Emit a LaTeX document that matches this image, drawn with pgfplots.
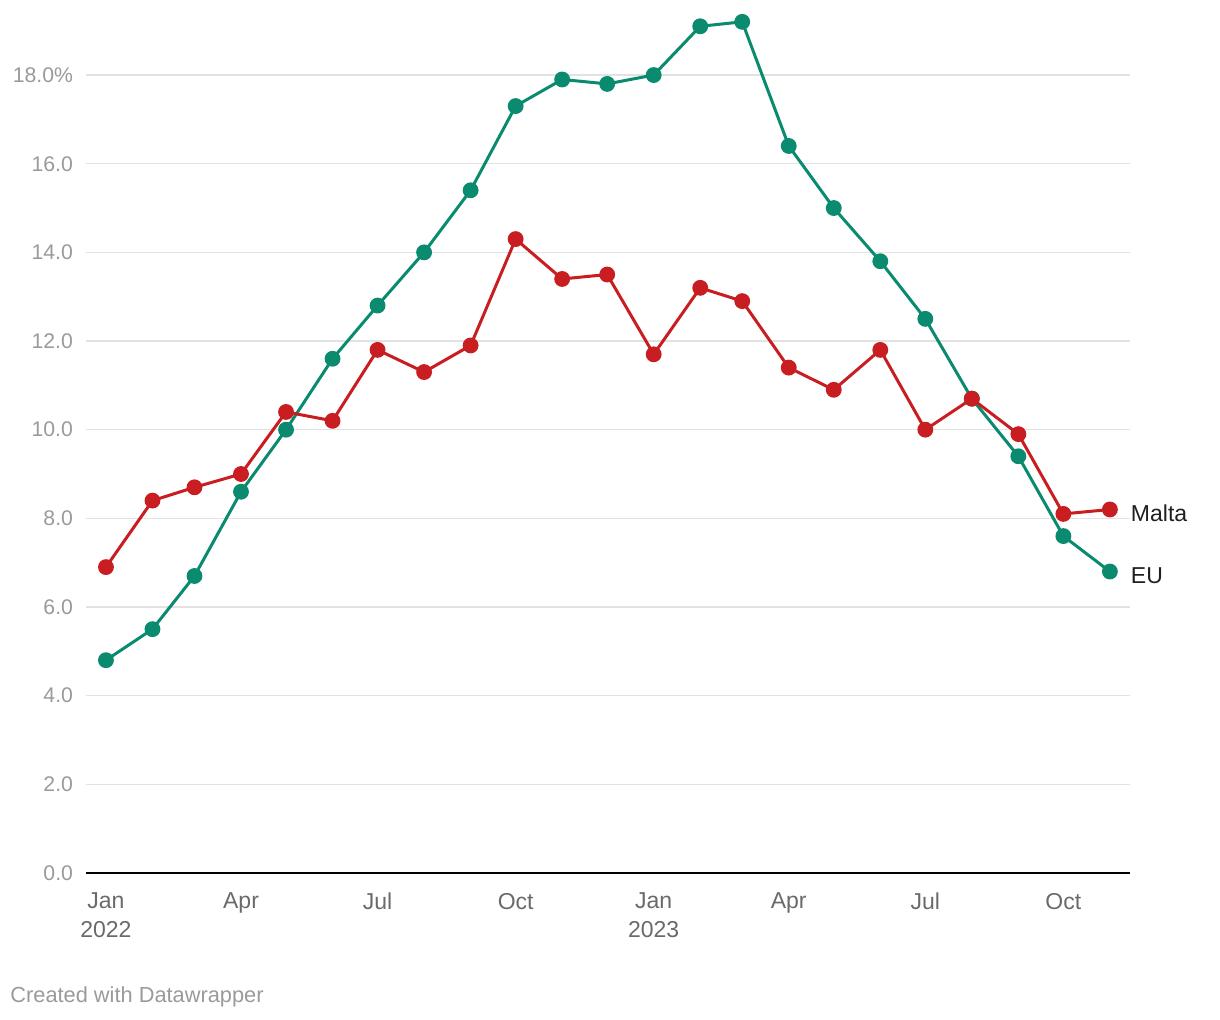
\documentclass[border=0pt]{standalone}
\usepackage{fontspec}
\setmainfont{Liberation Sans}
\usepackage{pgfplots}
\pgfplotsset{compat=1.18}
\definecolor{eugreen}{HTML}{0A8A6E}
\definecolor{mtred}{HTML}{C81E22}
\definecolor{gridgray}{HTML}{E2E2E2}
\definecolor{ylab}{HTML}{9A9A9A}
\definecolor{xlab}{HTML}{6A6A6A}

% x = days since 1 Jan 2022, one point per month
\pgfplotstableread{
day eu malta
0   4.8 6.9
31  5.5 8.4
59  6.7 8.7
90  8.6 9.0
120 10.0 10.4
151 11.6 10.2
181 12.8 11.8
212 14.0 11.3
243 15.4 11.9
273 17.3 14.3
304 17.9 13.4
334 17.8 13.5
365 18.0 11.7
396 19.1 13.2
424 19.2 12.9
455 16.4 11.4
485 15.0 10.9
516 13.8 11.8
546 12.5 10.0
577 10.7 10.7
608 9.4 9.9
638 7.6 8.1
669 6.8 8.2
}\inflation

\begin{document}
\begin{tikzpicture}
\path[use as bounding box] (0,0) rectangle (610pt,510pt);
\begin{axis}[
  at={(43pt,73.5pt)}, anchor=south west,
  scale only axis, width=522pt, height=430pt,
  xmin=-13.3, xmax=682.4,
  ymin=0, ymax=19.4,
  axis x line*=bottom, axis y line*=left,
  x axis line style={black, line width=1pt, -},
  y axis line style={draw=none},
  xtick={0,90,181,273,365,455,546,638},
  xticklabels={Jan\\2022,Apr,Jul,Oct,Jan\\2023,Apr,Jul,Oct},
  xticklabel style={align=center, text=xlab, font=\fontsize{11.5}{14.5}\selectfont, yshift=-6.5pt},
  major tick length=0pt,
  ytick={0,2,...,18},
  yticklabels={0.0,2.0,4.0,6.0,8.0,10.0,12.0,14.0,16.0,18.0\%},
  yticklabel style={anchor=east, text=ylab, font=\fontsize{10.6}{12}\selectfont, xshift=-3pt},
  ymajorgrids, grid style={gridgray, line width=0.75pt},
  clip=false,
]
\addplot[eugreen, line width=1.5pt, mark=*, mark size=3.2pt] table[x=day, y=eu] {\inflation};
\addplot[mtred, line width=1.5pt, mark=*, mark size=3.2pt] table[x=day, y=malta] {\inflation};
\node[anchor=west, font=\fontsize{11.5}{14}\selectfont, text=black!88, xshift=7pt, yshift=-2pt] at (axis cs:669,8.2) {Malta};
\node[anchor=west, font=\fontsize{11.5}{14}\selectfont, text=black!88, xshift=7pt, yshift=-2pt] at (axis cs:669,6.8) {EU};
\end{axis}
\node[anchor=west, font=\fontsize{10.9}{12}\selectfont, text=ylab, inner sep=0pt] at (5pt,11.5pt) {Created with Datawrapper};
\end{tikzpicture}
\end{document}
